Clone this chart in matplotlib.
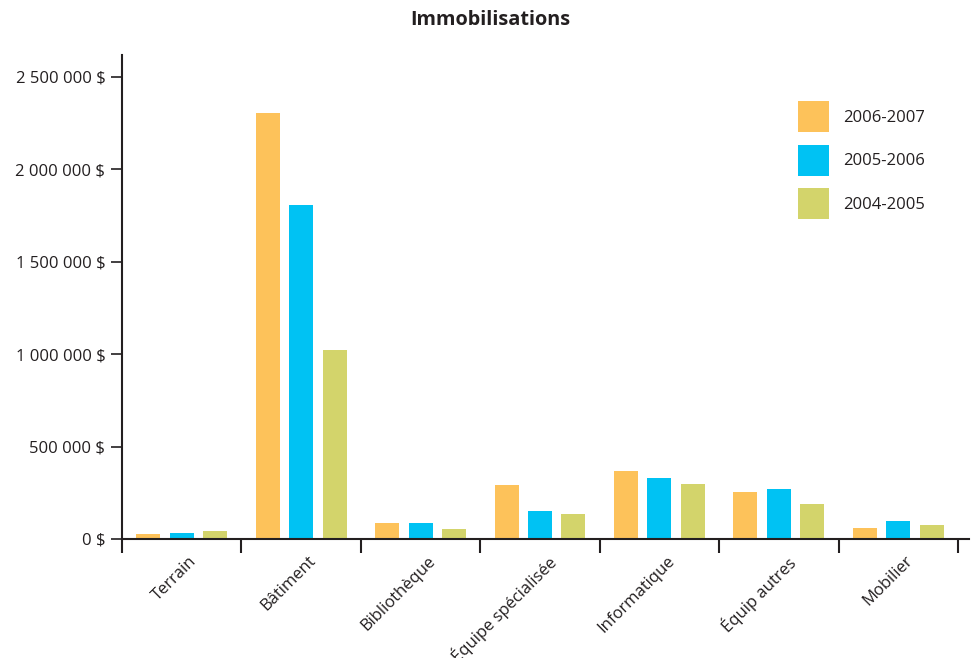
import matplotlib
matplotlib.use("Agg")
import matplotlib.pyplot as plt
import matplotlib.transforms as mtransforms
import numpy as np

plt.rcParams['font.family'] = ['Open Sans', 'DejaVu Sans']

categories = ["Terrain", "Bâtiment", "Bibliothèque", "Équipe spécialisée",
              "Informatique", "Équip autres", "Mobilier"]
series_names = ["2006-2007", "2005-2006", "2004-2005"]
v2006_2007 = [29000, 2305000, 88000, 292000, 368000, 254000, 60000]
v2005_2006 = [34000, 1807000, 88000, 153000, 330000, 271000, 97000]
v2004_2005 = [45000, 1023000, 56000, 137000, 298000, 189000, 76000]
series_values = [v2006_2007, v2005_2006, v2004_2005]
colors = ["#FDC25A", "#00C2F3", "#D3D46B"]
yticks = [0, 500000, 1000000, 1500000, 2000000, 2500000]
ytick_labels = ["0 $", "500 000 $", "1 000 000 $", "1 500 000 $", "2 000 000 $", "2 500 000 $"]

fig = plt.figure(figsize=(9.75, 6.58), dpi=100)
W, H = 975, 658
left, right, bottom, top = 122, 969, 539, 55
ax = fig.add_axes([left / W, 1 - bottom / H, (right - left) / W, (bottom - top) / H])

x = np.arange(len(categories))
offset = 0.28
width = 0.2
for i, (vals, c, name) in enumerate(zip(series_values, colors, series_names)):
    ax.bar(x + (i - 1) * offset, vals, width=width, color=c, label=name, zorder=2)

ax.set_xlim(-0.5, 6.5 + (right - 958) / 119.4)
ax.set_ylim(0, 2.619e6)

for s in ["top", "right"]:
    ax.spines[s].set_visible(False)
for s in ["left", "bottom"]:
    ax.spines[s].set_color("#231F20")
    ax.spines[s].set_linewidth(1.5)

ax.set_yticks(yticks)
ax.set_yticklabels(ytick_labels, fontsize=12, color="#231F20")
ax.tick_params(axis="y", direction="out", length=8, width=1.2, color="#231F20", pad=4)

ax.set_xticks(x)
ax.set_xticklabels(categories, rotation=45, ha="right", rotation_mode="anchor",
                   fontsize=12, color="#231F20")
ax.tick_params(axis="x", which="major", length=0, pad=10)
ax.set_xticks(np.arange(-0.5, 7.0, 1.0), minor=True)
ax.tick_params(axis="x", which="minor", direction="out", length=10, width=1.5, color="#231F20")
shift = mtransforms.ScaledTranslation(7 / 100, 0, fig.dpi_scale_trans)
for lab in ax.get_xticklabels():
    lab.set_transform(lab.get_transform() + shift)

fig.text(490 / W, 1 - 20 / H, "Immobilisations", ha="center", va="center",
         fontsize=14.3, fontweight="bold", color="#231F20")

leg = ax.legend(loc="upper left", bbox_to_anchor=(798 / W, 1 - 101 / H),
                bbox_transform=fig.transFigure, frameon=False, fontsize=12,
                handlelength=1.86, handleheight=2.485, handletextpad=0.84,
                labelspacing=0.75, borderpad=0, borderaxespad=0)
for t in leg.get_texts():
    t.set_color("#231F20")

fig.savefig("out.png", dpi=100)
